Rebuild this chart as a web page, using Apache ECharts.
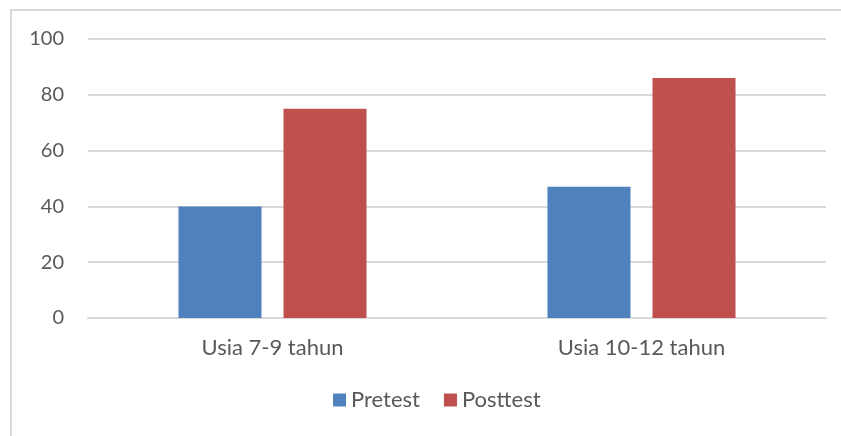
<!DOCTYPE html>
<html>
<head>
<meta charset="utf-8">
<script src="https://cdn.jsdelivr.net/npm/echarts@6/dist/echarts.min.js"></script>
<style>
  html, body { margin: 0; padding: 0; background: #fff; }
  #chart { width: 841px; height: 436px; }
</style>
</head>
<body>
<div id="chart"></div>
<script>
// data
const categories = ['Usia 7-9 tahun', 'Usia 10-12 tahun']
const pretest = [40, 47]
const posttest = [75, 86]

const chart = echarts.init(document.getElementById('chart'))
const font = 'Lato, "Open Sans", sans-serif'

const option = {
  animation: false,
  textStyle: { fontFamily: font },
  graphic: [
    {
      type: 'rect',
      shape: { x: 11, y: 10, width: 840, height: 440 },
      style: { fill: 'none', stroke: '#d9d9d9', lineWidth: 2 },
      silent: true
    }
  ],
  legend: {
    bottom: 20,
    left: 328,
    itemWidth: 13,
    itemHeight: 13,
    itemGap: 24,
    icon: 'rect',
    textStyle: { color: '#595959', fontSize: 22, fontFamily: font },
    data: ['Pretest', 'Posttest']
  },
  grid: {
    left: 88,
    right: 15,
    top: 39,
    bottom: 118
  },
  xAxis: {
    type: 'category',
    data: categories,
    axisLine: { lineStyle: { color: '#d9d9d9', width: 2 } },
    axisTick: { show: false },
    axisLabel: { color: '#595959', fontSize: 22, margin: 19, fontFamily: font }
  },
  yAxis: {
    type: 'value',
    min: 0,
    max: 100,
    interval: 20,
    axisLine: { show: false },
    axisTick: { show: false },
    axisLabel: { color: '#595959', fontSize: 20, margin: 24, fontFamily: font },
    splitLine: { lineStyle: { color: '#d9d9d9', width: 2 } }
  },
  series: [
    {
      name: 'Pretest',
      type: 'bar',
      data: pretest,
      barWidth: '22.5%',
      barGap: '26.5%',
      itemStyle: { color: '#4f81bd' }
    },
    {
      name: 'Posttest',
      type: 'bar',
      data: posttest,
      barWidth: '22.5%',
      itemStyle: { color: '#c0504d' }
    }
  ]
}
chart.setOption(option)
</script>
</body>
</html>
